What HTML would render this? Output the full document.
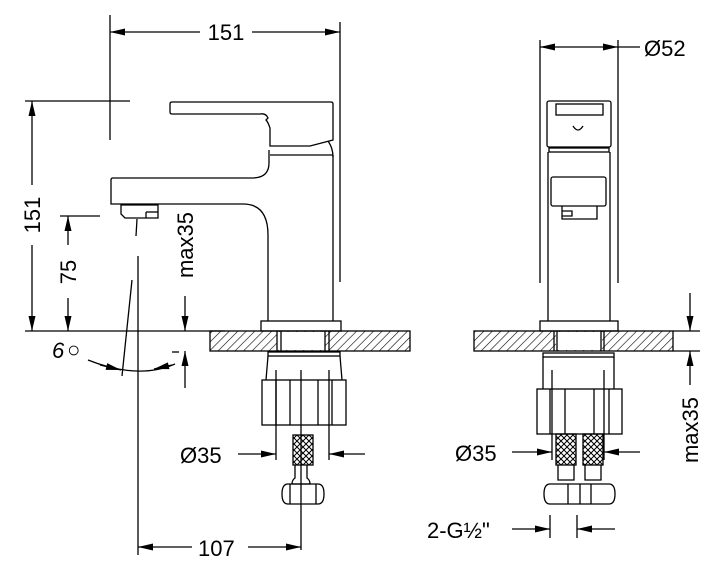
<!DOCTYPE html>
<html><head><meta charset="utf-8"><style>
html,body{margin:0;padding:0;background:#fff;}
svg{display:block;}
text{font-family:"Liberation Sans",sans-serif;font-size:22px;fill:#000;}
</style></head><body>
<svg id="s" width="720" height="578" viewBox="0 0 720 578" xmlns="http://www.w3.org/2000/svg">
<defs>
<pattern id="h" patternUnits="userSpaceOnUse" width="6" height="6" patternTransform="rotate(45)">
<line x1="0" y1="0" x2="0" y2="6" stroke="#000" stroke-width="1.2"/>
</pattern>
<pattern id="x" patternUnits="userSpaceOnUse" width="6" height="6">
<path d="M0,0 L6,6 M6,0 L0,6" stroke="#000" stroke-width="1"/>
</pattern>
</defs>
<g id="g" fill="none" stroke="#000" stroke-width="1.3">
<!-- ===== LEFT VIEW ===== -->
<line x1="110" y1="15" x2="110" y2="140"/>
<line x1="340" y1="22" x2="340" y2="282"/>
<line class="ar" x1="200" y1="32" x2="110" y2="32"/>
<line class="ar" x1="252" y1="32" x2="340" y2="32"/>
<line x1="25" y1="101" x2="130" y2="101"/>
<line class="ar" x1="32" y1="185" x2="32" y2="101"/>
<line class="ar" x1="32" y1="245" x2="32" y2="331"/>
<line x1="60" y1="216" x2="100" y2="216"/>
<line class="ar" x1="68" y1="245" x2="68" y2="216"/>
<line class="ar" x1="68" y1="298" x2="68" y2="331"/>
<line class="ar" x1="185" y1="296" x2="185" y2="331"/>
<line class="ar" x1="185" y1="388" x2="185" y2="351"/>
<line x1="172" y1="352" x2="179" y2="352"/>
<path d="M172,102 L331,102 Q333,102 333,104 L333,140 L310,146 L270,146 L270,128 Q268,122 266,120 L268,118 Q266,113 260,114 L172,114 Q170,114 170,112 L170,104 Q170,102 172,102 Z"/>
<path d="M328,141 Q333,148 333,157"/>
<line x1="270" y1="155" x2="333" y2="155"/>
<line x1="333" y1="155" x2="333" y2="321"/>
<path d="M269,150 L269,163 Q269,178 252,178 L113,178 Q111,178 111,180 L111,204 L243,204 Q268,204 268,235 L268,321"/>
<path d="M121,205 L158,205 L158,218 L125,218 L121,214 Z"/>
<path d="M146,212 L158,212"/>
<line x1="146" y1="212" x2="146" y2="218"/>
<rect x="261" y="321" width="80" height="10"/>
<line x1="25" y1="331" x2="225" y2="331"/>
<rect x="210" y="331" width="200" height="20" fill="url(#h)"/>
<rect x="277" y="332" width="48" height="18" fill="#fff" stroke="none"/>
<line x1="277" y1="331" x2="277" y2="351"/>
<line x1="281" y1="331" x2="281" y2="351"/>
<line x1="325" y1="331" x2="325" y2="351"/>
<line x1="329" y1="331" x2="329" y2="351"/>
<line x1="138" y1="256" x2="138" y2="555"/>
<line x1="137" y1="219" x2="136" y2="236"/>
<line x1="132" y1="280" x2="122" y2="376"/>
<path d="M88,360 Q138,380 175,364"/>
<line class="ar" x1="100" y1="365" x2="121" y2="370"/>
<line class="ar" x1="172" y1="365" x2="154" y2="369"/>
<rect x="268" y="352" width="72" height="4"/>
<path d="M268,356 L266,380 M340,356 L342,380"/>
<rect x="262" y="380" width="84" height="45"/>
<line x1="276" y1="380" x2="276" y2="425"/>
<line x1="290" y1="380" x2="290" y2="425"/>
<line x1="318" y1="380" x2="318" y2="425"/>
<line x1="332" y1="380" x2="332" y2="425"/>
<line x1="276" y1="370" x2="276" y2="460"/>
<line x1="329" y1="370" x2="329" y2="460"/>
<line x1="301" y1="370" x2="301" y2="550"/>
<rect x="293" y="435" width="20" height="30" fill="url(#x)"/>
<path d="M295,465 L295,478 Q292,480 292,484 L310,484 Q310,480 307,478 L307,465"/>
<path d="M288,484 L318,484 Q324,484 324,494 Q324,504 318,504 L288,504 Q282,504 282,494 Q282,484 288,484 Z"/>
<line x1="290" y1="484" x2="290" y2="504"/>
<line x1="316" y1="484" x2="316" y2="504"/>
<line class="ar" x1="238" y1="454" x2="276" y2="454"/>
<line class="ar" x1="365" y1="454" x2="329" y2="454"/>
<line class="ar" x1="192" y1="547" x2="138" y2="547"/>
<line class="ar" x1="248" y1="547" x2="301" y2="547"/>

<!-- ===== RIGHT VIEW ===== -->
<line x1="540" y1="40" x2="540" y2="283"/>
<line x1="618" y1="40" x2="618" y2="283"/>
<line class="ar" x1="580" y1="47" x2="540" y2="47"/>
<line class="ar" x1="580" y1="47" x2="618" y2="47"/>
<line x1="618" y1="47" x2="640" y2="47"/>
<rect x="547" y="101" width="64" height="46" rx="2"/>
<rect x="556" y="104" width="47" height="11"/>
<path d="M573,126 Q578,134 583,126"/>
<rect x="549" y="148" width="60" height="4"/>
<line x1="548" y1="152" x2="548" y2="321"/>
<line x1="610" y1="152" x2="610" y2="321"/>
<rect x="551" y="177" width="55" height="29" rx="2"/>
<path d="M562,206 L562,219 L597,219 L597,206"/>
<path d="M562,211 L572,211 L572,216 L562,216"/>
<rect x="540" y="321" width="78" height="10"/>
<rect x="474" y="331" width="199" height="20" fill="url(#h)"/>
<rect x="556" y="332" width="46" height="18" fill="#fff" stroke="none"/>
<line x1="554" y1="331" x2="554" y2="351"/>
<line x1="557" y1="331" x2="557" y2="351"/>
<line x1="601" y1="331" x2="601" y2="351"/>
<line x1="604" y1="331" x2="604" y2="351"/>
<line x1="673" y1="331" x2="700" y2="331"/>
<line x1="673" y1="351" x2="700" y2="351"/>
<line class="ar" x1="690" y1="293" x2="690" y2="331"/>
<line class="ar" x1="690" y1="385" x2="690" y2="351"/>
<rect x="543" y="353" width="71" height="4"/>
<path d="M543,357 L543,389 M614,357 L614,389"/>
<rect x="537" y="389" width="85" height="45"/>
<line x1="550" y1="389" x2="550" y2="434"/>
<line x1="565" y1="389" x2="565" y2="434"/>
<line x1="594" y1="389" x2="594" y2="434"/>
<line x1="609" y1="389" x2="609" y2="434"/>
<line x1="552" y1="370" x2="552" y2="460"/>
<line x1="604" y1="370" x2="604" y2="460"/>
<rect x="556" y="434" width="20" height="31" fill="url(#x)"/>
<rect x="583" y="434" width="20" height="31" fill="url(#x)"/>
<path d="M558,465 L558,480 L574,480 L574,465 M585,465 L585,480 L601,480 L601,465"/>
<path d="M550,484 L609,484 Q615,484 615,494 Q615,504 609,504 L550,504 Q544,504 544,494 Q544,484 550,484 Z"/>
<line x1="568" y1="484" x2="568" y2="504"/>
<line x1="580" y1="484" x2="580" y2="504"/>
<line x1="591" y1="484" x2="591" y2="504"/>
<line class="ar" x1="512" y1="452" x2="552" y2="452"/>
<line class="ar" x1="640" y1="452" x2="604" y2="452"/>
<line x1="550" y1="515" x2="550" y2="538"/>
<line x1="577" y1="515" x2="577" y2="538"/>
<line class="ar" x1="512" y1="529" x2="550" y2="529"/>
<line class="ar" x1="615" y1="529" x2="577" y2="529"/>
</g>
<g id="arr" fill="#000" stroke="none"></g>
<rect x="200" y="20" width="52" height="24" fill="#fff"/>
<text x="226" y="40" text-anchor="middle">151</text>
<text x="644" y="56">Ø52</text>
<text transform="translate(40,215) rotate(-90)" text-anchor="middle">151</text>
<text transform="translate(76,272) rotate(-90)" text-anchor="middle">75</text>
<text transform="translate(193,245) rotate(-90)" text-anchor="middle">max35</text>
<text transform="translate(698,430) rotate(-90)" text-anchor="middle">max35</text>
<text x="52" y="358" font-style="italic">6</text>
<text x="67" y="357" font-size="15">○</text>
<text x="180" y="463">Ø35</text>
<text x="455" y="461">Ø35</text>
<text x="198" y="556">107</text>
<text x="427" y="538">2-G½"</text>
</svg>
<script>
(function(){
var ns="http://www.w3.org/2000/svg",out=document.getElementById("arr");
var ls=document.querySelectorAll("line.ar");
for(var i=0;i<ls.length;i++){
var l=ls[i],x1=+l.getAttribute("x1"),y1=+l.getAttribute("y1"),x2=+l.getAttribute("x2"),y2=+l.getAttribute("y2");
var dx=x2-x1,dy=y2-y1,d=Math.sqrt(dx*dx+dy*dy);dx/=d;dy/=d;
var L=15,W=3.5,bx=x2-dx*L,by=y2-dy*L;
var p=document.createElementNS(ns,"polygon");
p.setAttribute("points",x2+","+y2+" "+(bx-dy*W)+","+(by+dx*W)+" "+(bx+dy*W)+","+(by-dx*W));
out.appendChild(p);
}
})();
</script>
</body></html>
